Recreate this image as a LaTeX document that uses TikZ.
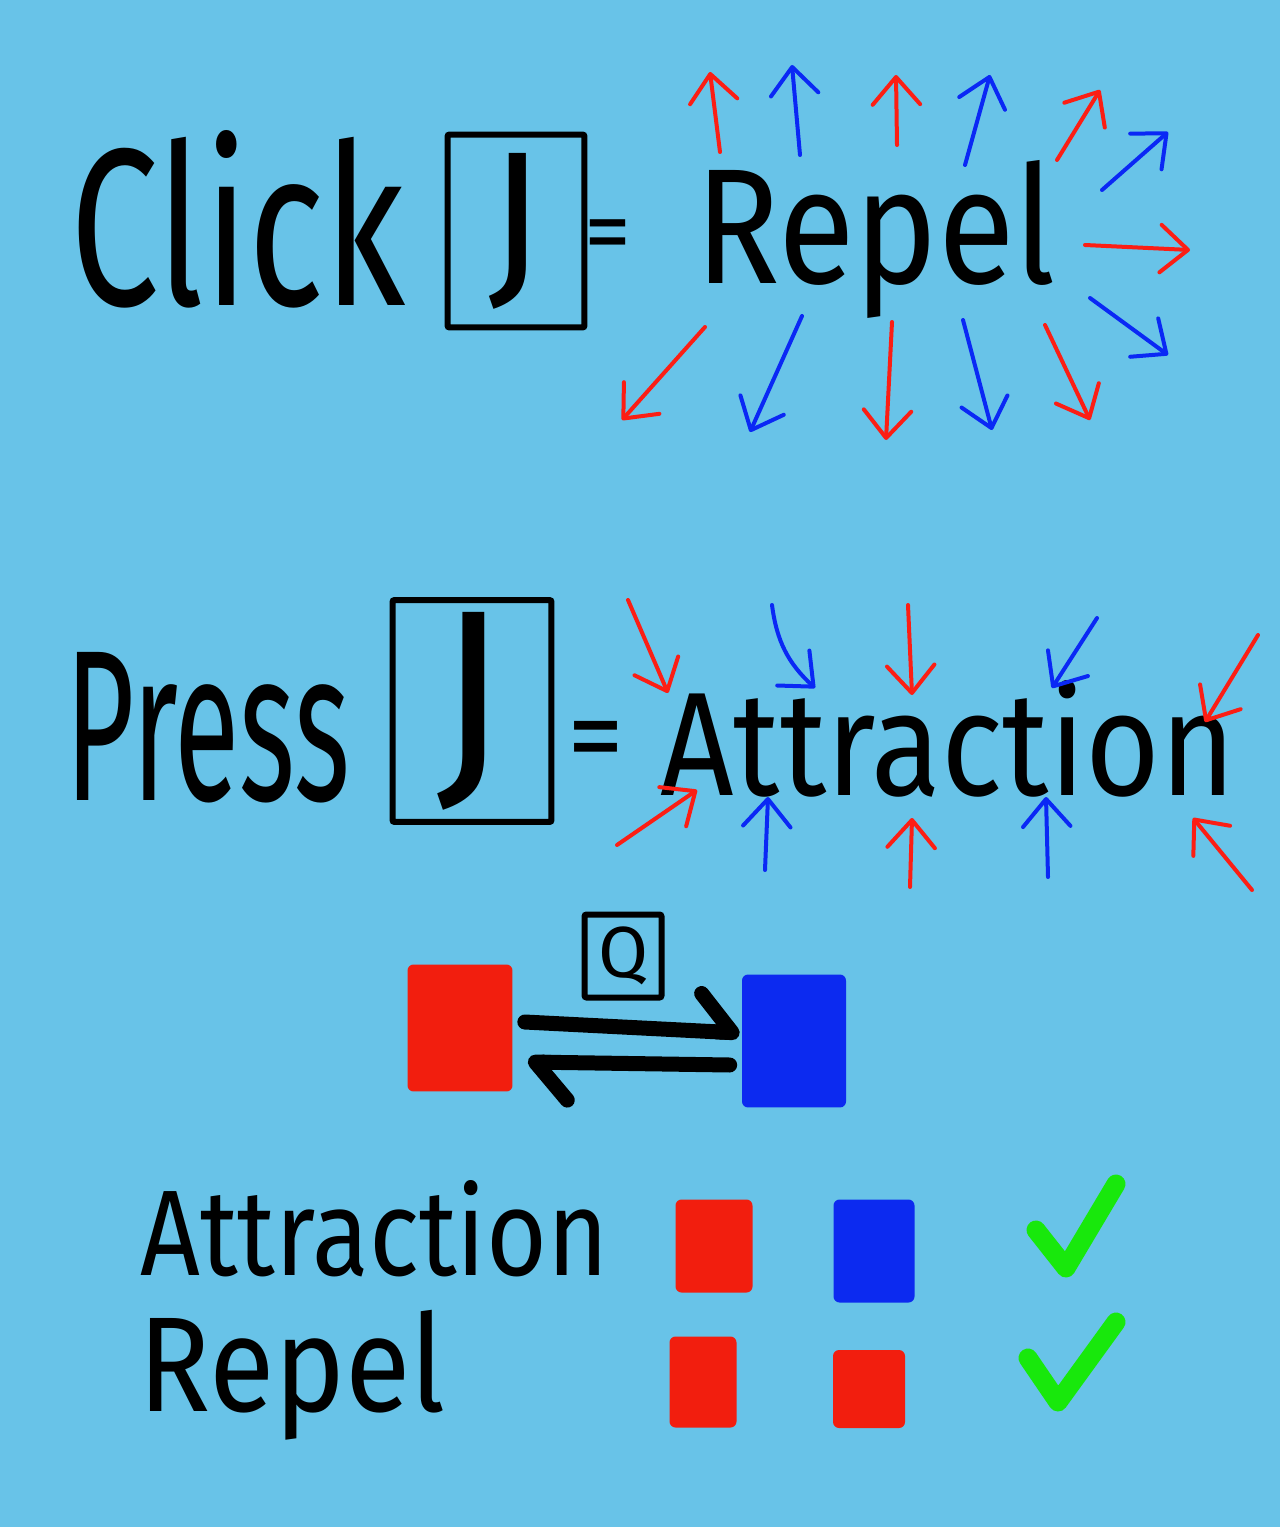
\documentclass[tikz,border=0pt]{standalone}
\usepackage{fontspec}
\setmainfont{Fira Sans}
\usetikzlibrary{arrows.meta}
\definecolor{skyback}{RGB}{104,195,232}
\definecolor{inkred}{RGB}{252,30,20}
\definecolor{inkblue}{RGB}{10,40,245}
\definecolor{padred}{RGB}{242,30,14}
\definecolor{padblue}{RGB}{12,42,240}
\definecolor{tickgreen}{RGB}{24,232,12}
\tikzset{
    word/.style={inner sep=0pt, anchor=north west, text=black},
    keybox/.style={draw=black, line width=0.12cm, inner sep=0pt, rounded corners=0.04cm},
    pad/.style={inner sep=0pt, rounded corners=0.12cm},
    spark/.style={line width=0.08cm, line cap=round, -{Straight Barb[length=0.55cm, width=0.95cm, line width=0.08cm, round]}},
    shuttle/.style={line width=0.3cm, line cap=round, -{Straight Barb[harpoon, length=0.65cm, width=1.5cm, line width=0.3cm, round]}},
    tick/.style={line width=0.38cm, line cap=round, line join=round, draw=tickgreen}
}

\begin{document}
\begin{tikzpicture}[x=0.02cm, y=-0.02cm]
    \fill[skyback] (0,0) rectangle (1280,1527);

    % click row
    \node (click) [word] at (70,130) {\resizebox{6.7cm}{3.5cm}{Click}};
    \node (jclick) [keybox, minimum width=2.74cm, minimum height=3.86cm] at (516,231) {\resizebox{1.1cm}{2.6cm}{J}};
    \node (eqone) [inner sep=0pt] at (608,242) {\resizebox{0.94cm}{!}{=}};
    \node (repel) [word] at (695,160) {\resizebox*{7.2cm}{3.16cm}{Repel}};

    \foreach \fx/\fy/\tx/\ty/\col in {720/152/710/72/inkred, 800/155/792/65/inkblue,
        897/145/896/75/inkred, 965/165/990/75/inkblue, 1057/160/1100/90/inkred,
        1102/190/1168/132/inkblue, 1085/245/1190/250/inkred, 1090/298/1168/355/inkblue,
        705/327/622/420/inkred, 802/316/750/432/inkblue, 892/322/886/440/inkred,
        963/320/992/430/inkblue, 1045/325/1090/420/inkred}
        \draw[spark, draw=\col] (\fx,\fy) -- (\tx,\ty);

    % press row
    \node (press) [word] at (65,652) {\resizebox{5.7cm}{2.96cm}{Press}};
    \node (jpress) [keybox, minimum width=3.18cm, minimum height=4.44cm] at (472,711) {\resizebox{1.4cm}{3.3cm}{J}};
    \node (eqtwo) [inner sep=0pt] at (596,748) {\resizebox{1.14cm}{!}{=}};
    \node (attract) [word] at (660,680) {\resizebox{11.5cm}{2.3cm}{Attraction}};

    \foreach \fx/\fy/\tx/\ty/\col in {628/600/668/693/inkred, 908/605/912/695/inkred,
        1097/618/1052/688/inkblue, 1258/635/1205/722/inkred, 617/845/697/790/inkred,
        765/870/768/797/inkblue, 910/887/912/818/inkred, 1048/877/1046/797/inkblue,
        1252/890/1193/818/inkred}
        \draw[spark, draw=\col] (\fx,\fy) -- (\tx,\ty);
    \draw[spark, draw=inkblue] (772,605) to[bend right=20] (815,688);

    % swap with Q
    \node (qkey) [keybox, minimum width=1.54cm, minimum height=1.66cm] at (623,956) {\resizebox{1.0cm}{!}{Q}};
    \node (redpad) [pad, fill=padred, minimum width=2.1cm, minimum height=2.54cm] at (460,1028) {};
    \node (bluepad) [pad, fill=padblue, minimum width=2.08cm, minimum height=2.66cm] at (794,1041) {};
    \draw[shuttle] ([xshift=0.24cm, yshift=0.12cm]redpad.east) -- ([xshift=-0.04cm, yshift=0.16cm]bluepad.west);
    \draw[shuttle] ([xshift=-0.24cm, yshift=-0.48cm]bluepad.west) -- ([xshift=0.3cm, yshift=-0.68cm]redpad.east);

    % legend
    \node (attractrow) [word] at (140,1180) {\resizebox{9.36cm}{1.9cm}{Attraction}};
    \node (repelrow) [word] at (138,1310) {\resizebox*{6.14cm}{2.6cm}{Repel}};
    \node (attred) [pad, fill=padred, minimum width=1.54cm, minimum height=1.86cm] at (714,1246) {};
    \node (attblue) [pad, fill=padblue, minimum width=1.62cm, minimum height=2.06cm] at (874,1251) {};
    \node (repred) [pad, fill=padred, minimum width=1.34cm, minimum height=1.82cm] at (703,1382) {};
    \node (repredb) [pad, fill=padred, minimum width=1.44cm, minimum height=1.56cm] at (869,1389) {};
    \draw[tick] (1036,1230) -- (1066,1268) -- (1116,1184);
    \draw[tick] (1028,1358) -- (1058,1402) -- (1116,1322);
\end{tikzpicture}
\end{document}
